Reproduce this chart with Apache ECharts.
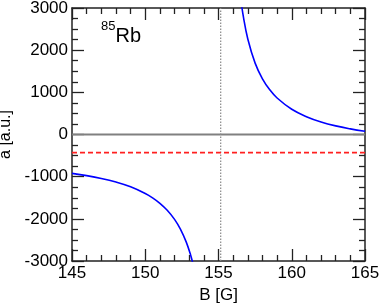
<!DOCTYPE html>
<html><head><meta charset="utf-8">
<script src="https://cdn.jsdelivr.net/npm/echarts@6/dist/echarts.min.js"></script>
<style>html,body{margin:0;padding:0;background:#fff}#c{width:382px;height:303px}</style>
</head><body><div id="c"></div>
<script>
// Values
const leftB = [145, 146, 147, 148, 149, 150, 150.5, 151, 151.5, 152, 152.4, 152.8, 153.1, 153.25];
const leftA = [-921, -975, -1042, -1128, -1241, -1399, -1503, -1632, -1797, -2013, -2244, -2553, -2863, -3055];
const rightB = [156.5, 156.7, 157, 157.5, 158, 158.5, 159, 160, 161, 162, 163, 164, 165];
const rightA = [3265, 2788, 2266, 1693, 1320, 1059, 866, 598, 423, 298, 205, 134, 76];
const resonanceB = 155.15;
const backgroundA = -430;
const xTicks = [145, 150, 155, 160, 165];
const yTicks = [-3000, -2000, -1000, 0, 1000, 2000, 3000];

const FONT = '"Liberation Sans", Arial, sans-serif';
const axisCol = '#222';
function xAx(pos, show) {
  return {
    type: 'value', position: pos, min: xTicks[0], max: xTicks[xTicks.length - 1], interval: 5,
    name: show ? 'B [G]' : '', nameLocation: 'middle', nameGap: 25,
    nameTextStyle: {fontFamily: FONT, fontSize: 17, color: '#000'},
    axisLine: {onZero: false, lineStyle: {color: axisCol, width: 1.5}},
    axisTick: {inside: true, length: 12, lineStyle: {color: axisCol, width: 1.3}},
    minorTick: {show: true, splitNumber: 5, length: 6, lineStyle: {color: axisCol, width: 1.3}},
    axisLabel: {show: show, fontFamily: FONT, fontSize: 17, color: '#000', margin: 4,
                formatter: v => String(v)},
    splitLine: {show: false}
  };
}
function yAx(pos, show) {
  return {
    type: 'value', position: pos, min: yTicks[0], max: yTicks[yTicks.length - 1], interval: 1000,
    name: show ? 'a [a.u.]' : '', nameLocation: 'middle', nameGap: 54,
    nameTextStyle: {fontFamily: FONT, fontSize: 16, color: '#000'},
    axisLine: {onZero: false, lineStyle: {color: axisCol, width: 1.5}},
    axisTick: {inside: true, length: 12, lineStyle: {color: axisCol, width: 1.3}},
    minorTick: {show: true, splitNumber: 4, length: 6, lineStyle: {color: axisCol, width: 1.3}},
    axisLabel: {show: show, fontFamily: FONT, fontSize: 17, color: '#000', margin: 4,
                formatter: v => String(v)},
    splitLine: {show: false}
  };
}
const chart = echarts.init(document.getElementById('c'), null, {renderer: 'canvas'});
chart.setOption({
  animation: false,
  backgroundColor: '#fff',
  grid: {left: 72, right: 17, top: 8, bottom: 42, containLabel: false, outerBoundsMode: 'none'},
  xAxis: [xAx('bottom', true), xAx('top', false)],
  yAxis: [yAx('left', true), yAx('right', false)],
  graphic: [{
    type: 'text', left: 101, top: 20,
    style: {
      text: '{s|85}{b|Rb}',
      rich: {
        s: {fontFamily: FONT, fontSize: 13, fill: '#000', verticalAlign: 'top', padding: [0, 0, 10, 0]},
        b: {fontFamily: FONT, fontSize: 20, fill: '#000', padding: [6, 0, 0, 0]}
      }
    }
  }],
  series: [
    {type: 'line', data: [[145, 0], [165, 0]], symbol: 'none', silent: true,
     lineStyle: {color: '#808080', width: 2}, z: 1},
    {type: 'line', data: [[resonanceB, -3000], [resonanceB, 3000]], symbol: 'none', silent: true,
     lineStyle: {color: '#888', width: 1.2, type: [1.5, 1.5]}, z: 1},
    {type: 'line', data: [[145, backgroundA], [165, backgroundA]], symbol: 'none', silent: true,
     lineStyle: {color: '#ff2020', width: 1.8, type: [5, 3]}, z: 2},
    {type: 'line', data: leftB.map((b, i) => [b, leftA[i]]), symbol: 'none', smooth: 0.4, clip: true,
     lineStyle: {color: '#0000ff', width: 1.6}, z: 3},
    {type: 'line', data: rightB.map((b, i) => [b, rightA[i]]), symbol: 'none', smooth: 0.4, clip: true,
     lineStyle: {color: '#0000ff', width: 1.6}, z: 3}
  ]
});
</script></body></html>
